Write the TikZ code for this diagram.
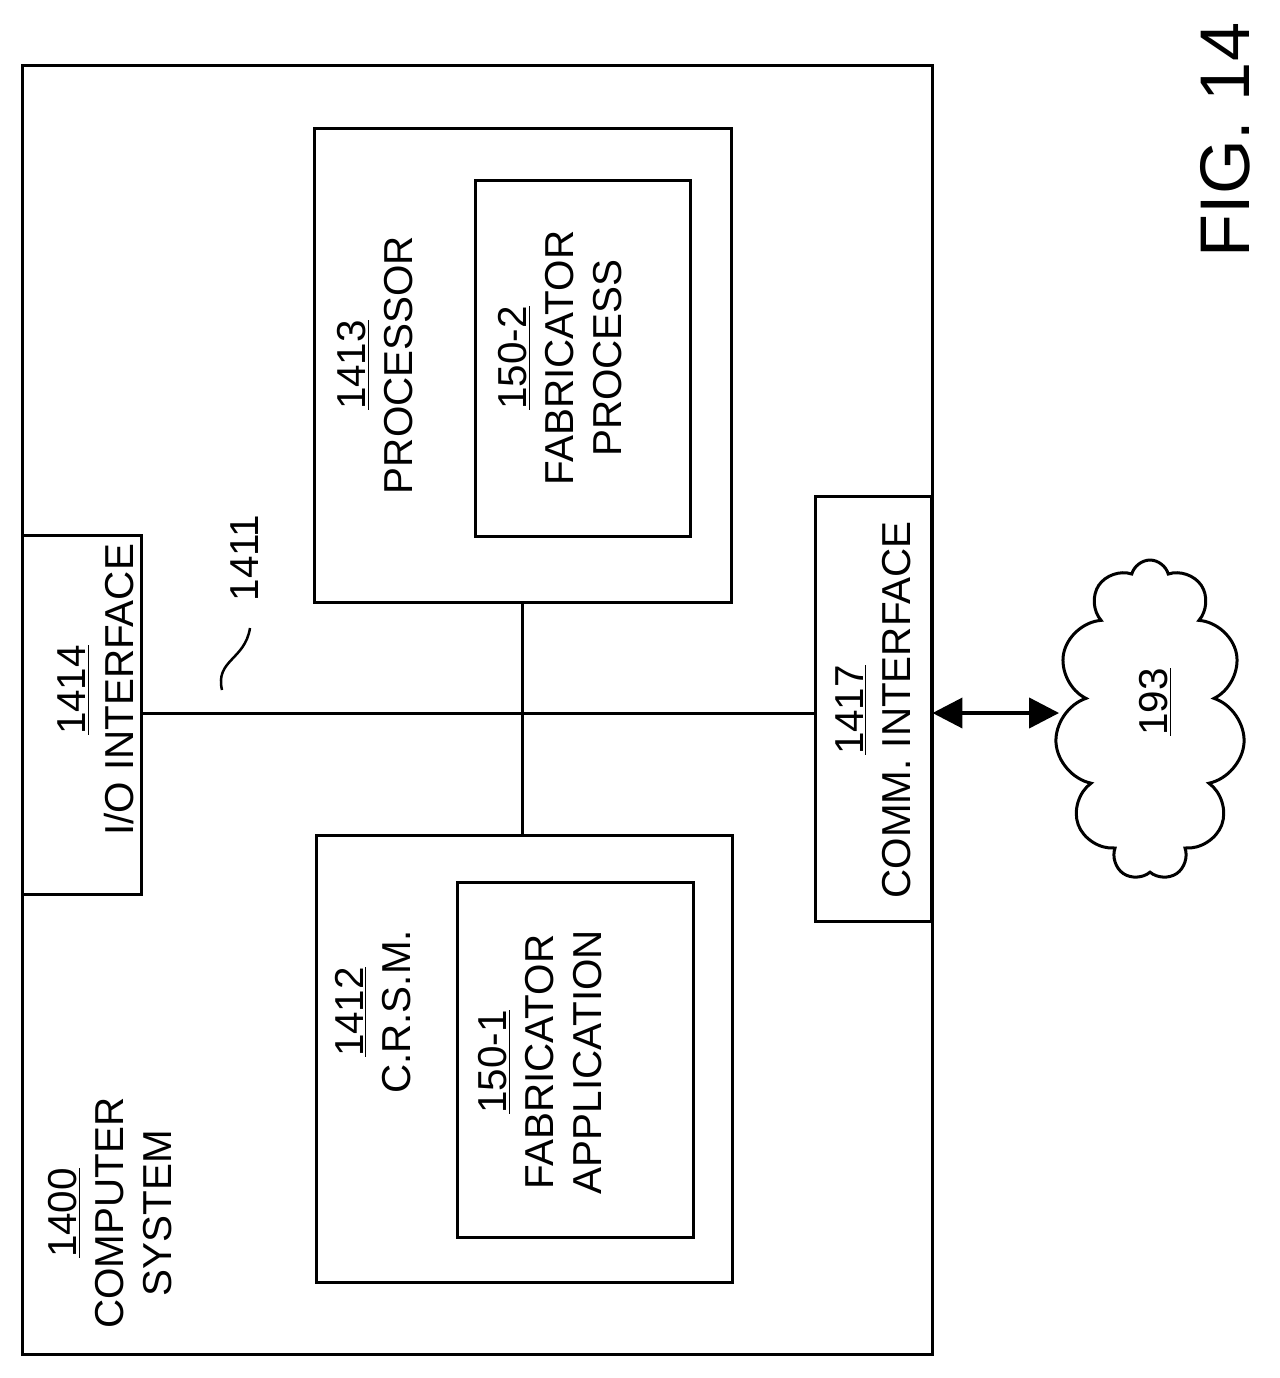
\documentclass[tikz,border=0pt]{standalone}
\usepackage{fontspec}
\setmainfont{Liberation Sans}
\usetikzlibrary{shapes.symbols,arrows.meta}
\tikzset{
	box/.style = {draw, line width = 0.06cm, inner sep = 0pt},
	lbl/.style = {rotate = 90, align = center, font = \fontsize{23}{27}\selectfont},
	bus/.style = {line width = 0.06cm}
}
\begin{document}
\begin{tikzpicture}[x=0.02cm, y=-0.02cm]
	\useasboundingbox (0,0) rectangle (1279,1378);
	
	\node[box, minimum width = 18.22cm, minimum height = 25.8cm] (sys) at (477.5,710) {};
	\node[box, minimum width = 8.36cm, minimum height = 9.5cm] (proc) at (523,365.5) {};
	\node[box, minimum width = 4.32cm, minimum height = 7.14cm] (fabp) at (583,358.5) {};
	\node[box, minimum width = 8.34cm, minimum height = 8.96cm] (crsm) at (524.5,1059) {};
	\node[box, minimum width = 4.74cm, minimum height = 7.12cm] (faba) at (575.5,1060) {};
	\node[box, fill = white, minimum width = 2.4cm, minimum height = 7.2cm] (io) at (82,715) {};
	\node[box, fill = white, minimum width = 2.32cm, minimum height = 8.52cm] (comm) at (873,709) {};
	\node[draw, cloud, cloud puffs = 11, aspect = 0.6, line width = 0.06cm, minimum width = 3.8cm, minimum height = 6.4cm] (net) at (1150,720) {};
	
	% texts
	\node[lbl] (sysl) at (110,1213) {\underline{1400}\\COMPUTER\\SYSTEM};
	\node[lbl] (procl) at (375,365) {\underline{1413}\\PROCESSOR};
	\node[lbl] (fabpl) at (560,358) {\underline{150-2}\\FABRICATOR\\PROCESS};
	\node[lbl] (crsml) at (373,1012) {\underline{1412}\\C.R.S.M.};
	\node[lbl] (fabal) at (540,1062) {\underline{150-1}\\FABRICATOR\\APPLICATION};
	\node[lbl] (iol) at (96,690) {\underline{1414}\\I/O INTERFACE};
	\node[lbl] (comml) at (873,710) {\underline{1417}\\COMM. INTERFACE};
	\node[lbl] (netl) at (1155,702) {\underline{193}};
	\node[lbl] (busl) at (245,558) {1411};
	\node[rotate = 90, font = \fontsize{40}{48}\selectfont] (fig) at (1225,140) {FIG. 14};
	
	% bus
	\coordinate (bus) at (522,713);
	\draw[bus] (bus -| io.east) -- (bus -| comm.west);
	\draw[bus] (proc.south -| bus) -- (crsm.north -| bus);
	\draw[line width = 0.05cm] (222,690) .. controls (215,660) and (245,660) .. (250,628);
	\draw[line width = 0.08cm, {Triangle[length=0.6cm,width=0.6cm]}-{Triangle[length=0.6cm,width=0.6cm]}] (bus -| comm.east) -- (bus -| net.west);
	
\end{tikzpicture}
\end{document}
